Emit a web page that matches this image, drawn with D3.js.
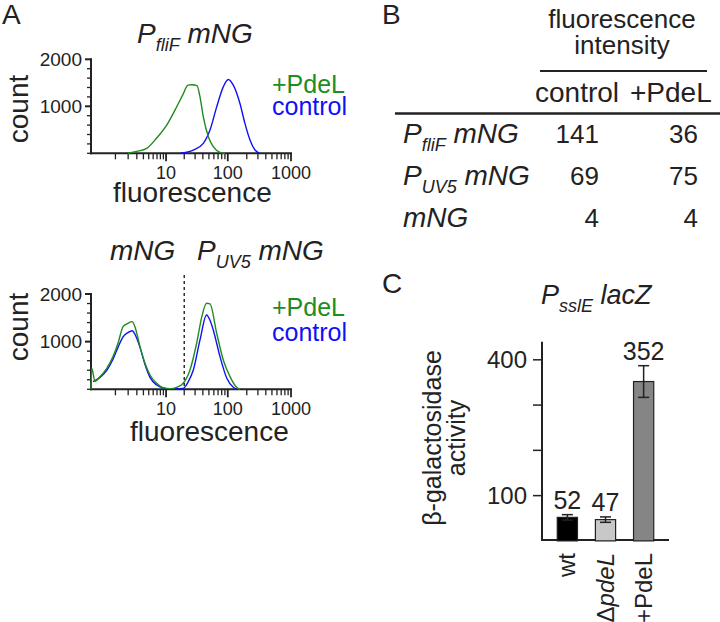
<!DOCTYPE html>
<html>
<head>
<meta charset="utf-8">
<script src="https://cdn.jsdelivr.net/npm/d3@7"></script>
<style>
	body { margin: 0; background: #fff; }
	text { font-family: "Liberation Sans", Arial, sans-serif; fill: #222; }
</style>
</head>
<body>
<script>
// Panel A histograms, [fluorescence, count].
var fliFPdeL = [[1.98,0],[2.98,40],[4.59,106],[6.91,325],[10.25,600],[15.04,990],[19,1250],[23.0,1450],[26.7,1460],[32.2,1440],[36.0,1200],[40.7,776],[49.0,352],[58.7,140],[75.2,20],[90.2,0]];
var fliFControl = [[17.05,0],[28.1,70],[40.7,212],[52.1,494],[66.6,988],[84.8,1413],[101.8,1570],[122.3,1450],[156,1060],[187,636],[225,282],[270,70],[324,0]];
var uv5PdeL = [[0,0],[0.018,441],[0.109,170],[0.271,266],[0.542,441],[0.856,686],[1.167,966],[1.544,1316],[1.98,1386],[2.43,1421],[2.77,1302],[3.45,896],[4.28,546],[5.27,301],[6.91,126],[8.87,35],[11.70,14],[15.04,42],[19.25,126],[24.8,406],[31.8,966],[38.5,1526],[45.9,1806],[52.1,1792],[66.6,1176],[84.8,616],[108.5,266],[138,42],[156,0]];
var uv5Control = [[0.053,160],[0.271,250],[0.542,400],[0.856,630],[1.167,880],[1.544,1100],[1.98,1190],[2.43,1230],[2.77,1150],[3.45,880],[4.28,520],[5.27,250],[6.91,90],[8.87,30],[11.70,10],[15.04,10],[19.25,20],[23.3,160],[28.1,405],[36.0,1036],[45.9,1560],[52.1,1450],[58.7,1246],[75.2,685],[96.5,231],[122.3,42],[140,0]];
var fluorTicks = [10, 100, 1000];
var countTicks = [1000, 2000];
var gateValue = 20;

// Panel B table.
var tablePromoters = ["fliF", "UV5", null];
var tableControl = [141, 69, 4];
var tablePdeL = [36, 75, 4];

// Panel C bars.
var lacZStrains = ["wt", "pdeL", "+PdeL"];
var lacZActivity = [52, 47, 352];
var lacZError = [6, 6, 35];
var lacZTicks = [100, 200, 300, 400];
var lacZLabelled = [100, 400];

var green = "#1f8c1f", blue = "#1010f8";

var svg = d3.select("body").append("svg")
	.attr("width", 720)
	.attr("height", 622);

function label(x, y, str, size, opts) {
	opts = opts || {};
	return svg.append("text")
		.attr("x", x).attr("y", y)
		.attr("font-size", size)
		.attr("text-anchor", opts.anchor || "start")
		.attr("font-style", opts.italic ? "italic" : null)
		.style("fill", opts.fill || null)
		.text(str);
}

// P with subscript then " mNG" style label.
function promoterLabel(x, y, sub, rest, size, subSize) {
	var t = svg.append("text")
		.attr("x", x).attr("y", y)
		.attr("font-size", size)
		.attr("font-style", "italic");
	if (sub) {
		t.append("tspan").text("P");
		t.append("tspan").attr("font-size", subSize).attr("dy", subSize * 0.45).text(sub);
		t.append("tspan").attr("dy", -subSize * 0.45).text(" " + rest);
	} else {
		t.text(rest);
	}
	return t;
}

var x = d3.scaleSymlog().constant(0.7).domain([0, 1000]).range([91, 291]);

function histogram(top, bottom, pdel, control) {
	var y = d3.scaleLinear().domain([0, 2000]).range([bottom, top]);
	var g = svg.append("g");
	var ax = "#222";

	// y axis with minor ticks every 200
	g.append("line").attr("x1", 91).attr("x2", 91).attr("y1", y(2000) - 1).attr("y2", y(0) + 1)
		.attr("stroke", ax).attr("stroke-width", 2);
	d3.range(0, 2001, 200).forEach(function(v) {
		var major = countTicks.indexOf(v) >= 0;
		g.append("line").attr("x1", major ? 85 : 87).attr("x2", 91)
			.attr("y1", y(v)).attr("y2", y(v))
			.attr("stroke", ax).attr("stroke-width", major ? 2 : 1.3);
	});
	countTicks.forEach(function(v) {
		label(82, y(v) + 6.5, v, 19, {anchor: "end"});
	});

	// x axis, log decades
	g.append("line").attr("x1", 90).attr("x2", x(1000) + 1).attr("y1", bottom).attr("y2", bottom)
		.attr("stroke", ax).attr("stroke-width", 2);
	var minor = [];
	[1, 10, 100].forEach(function(d) {
		for (var i = 1; i < 10; i++) minor.push(d * i);
	});
	minor.push(1000);
	minor.forEach(function(v) {
		var major = fluorTicks.indexOf(v) >= 0;
		g.append("line").attr("x1", x(v)).attr("x2", x(v))
			.attr("y1", bottom).attr("y2", bottom + (major ? 8 : 6))
			.attr("stroke", ax).attr("stroke-width", major ? 1.8 : 1.3);
	});
	fluorTicks.forEach(function(v) {
		label(x(v), bottom + 26, v, 18, {anchor: "middle"});
	});

	var line = d3.line()
		.x(function(d) { return x(d[0]); })
		.y(function(d) { return y(d[1]); })
		.curve(d3.curveMonotoneX);
	g.append("path").attr("d", line(control)).attr("fill", "none").attr("stroke", blue).attr("stroke-width", 1.4);
	g.append("path").attr("d", line(pdel)).attr("fill", "none").attr("stroke", green).attr("stroke-width", 1.4);
	return y;
}

// ---- Panel A
label(2, 24, "A", 28);
promoterLabel(137, 43, "fliF", "mNG", 28, 18);
histogram(59.3, 153.3, fliFPdeL, fliFControl);
label(272, 93, "+PdeL", 25, {fill: green});
label(272, 115, "control", 25, {fill: blue});
svg.append("text").attr("transform", "translate(28,109) rotate(-90)")
	.attr("text-anchor", "middle").attr("font-size", 28).text("count");
label(113, 202, "fluorescence", 28);

promoterLabel(110, 260, null, "mNG", 28, 18);
promoterLabel(197, 260, "UV5", "mNG", 28, 18);
histogram(294, 389.3, uv5PdeL, uv5Control);
svg.append("line").attr("x1", x(gateValue)).attr("x2", x(gateValue))
	.attr("y1", 275).attr("y2", 389)
	.attr("stroke", "#222").attr("stroke-width", 1.4).attr("stroke-dasharray", "3,3");
label(272, 316, "+PdeL", 25, {fill: green});
label(272, 341, "control", 25, {fill: blue});
svg.append("text").attr("transform", "translate(28,327) rotate(-90)")
	.attr("text-anchor", "middle").attr("font-size", 28).text("count");
label(130, 441, "fluorescence", 28);

// ---- Panel B
label(382, 24, "B", 28);
label(622, 28, "fluorescence", 26, {anchor: "middle"});
label(622, 54, "intensity", 26, {anchor: "middle"});
svg.append("line").attr("x1", 540).attr("x2", 707).attr("y1", 71).attr("y2", 71)
	.attr("stroke", "#222").attr("stroke-width", 2);
label(535, 102, "control", 28);
label(630, 102, "+PdeL", 28);
svg.append("line").attr("x1", 395).attr("x2", 720).attr("y1", 113.5).attr("y2", 113.5)
	.attr("stroke", "#222").attr("stroke-width", 2.5);

var rowY = d3.scalePoint().domain(d3.range(tablePromoters.length)).range([143.3, 226.7]);
tablePromoters.forEach(function(p, i) {
	promoterLabel(403, rowY(i), p, "mNG", 28, 18);
	label(599, rowY(i), tableControl[i], 26, {anchor: "end"});
	label(698, rowY(i), tablePdeL[i], 26, {anchor: "end"});
});

// ---- Panel C
label(382, 293, "C", 28);
promoterLabel(541, 304, "sslE", "lacZ", 27, 18);

var cy = d3.scaleLinear().domain([0, 440]).range([540.9, 341.7]);
var cx = d3.scaleBand().domain(lacZStrains).range([542, 669]).paddingInner(0.47).paddingOuter(0.4);

svg.append("line").attr("x1", 542).attr("x2", 542).attr("y1", cy(440)).attr("y2", 541)
	.attr("stroke", "#222").attr("stroke-width", 2);
svg.append("line").attr("x1", 541).attr("x2", 669).attr("y1", 540).attr("y2", 540)
	.attr("stroke", "#222").attr("stroke-width", 2);
lacZTicks.forEach(function(v) {
	svg.append("line").attr("x1", 533).attr("x2", 542).attr("y1", cy(v)).attr("y2", cy(v))
		.attr("stroke", "#222").attr("stroke-width", 1.5);
});
lacZLabelled.forEach(function(v) {
	label(527, cy(v) + 8, v, 24, {anchor: "end"});
});

var barFill = ["#000", "#c8c8c8", "#858585"];
lacZStrains.forEach(function(s, i) {
	var bx = cx(s), bw = cx.bandwidth(), mid = bx + bw / 2;
	svg.append("rect").attr("x", bx).attr("y", cy(lacZActivity[i]))
		.attr("width", bw).attr("height", cy(0) - cy(lacZActivity[i]))
		.attr("fill", barFill[i]).attr("stroke", "#222").attr("stroke-width", 1.2);
	var hi = cy(lacZActivity[i] + lacZError[i]), lo = cy(lacZActivity[i] - lacZError[i]);
	svg.append("line").attr("x1", mid).attr("x2", mid).attr("y1", hi).attr("y2", lo)
		.attr("stroke", "#222").attr("stroke-width", 1.5);
	[hi, lo].forEach(function(e) {
		svg.append("line").attr("x1", mid - 5.5).attr("x2", mid + 5.5).attr("y1", e).attr("y2", e)
			.attr("stroke", "#222").attr("stroke-width", 1.5);
	});
	label(mid, hi - 6, lacZActivity[i], 25, {anchor: "middle"});

	var t = svg.append("text").attr("transform", "translate(" + (mid + 8) + ",553) rotate(-90)")
		.attr("text-anchor", "end").attr("font-size", 24);
	if (s == "pdeL") {
		t.append("tspan").text("\u0394");
		t.append("tspan").attr("font-style", "italic").text(s);
	} else {
		t.text(s);
	}
});

var yl = svg.append("text").attr("transform", "translate(441,438) rotate(-90)")
	.attr("text-anchor", "middle").attr("font-size", 25);
yl.append("tspan").attr("x", 0).attr("y", 0).text("\u03b2-galactosidase");
yl.append("tspan").attr("x", 0).attr("y", 24).text("activity");
</script>
</body>
</html>
